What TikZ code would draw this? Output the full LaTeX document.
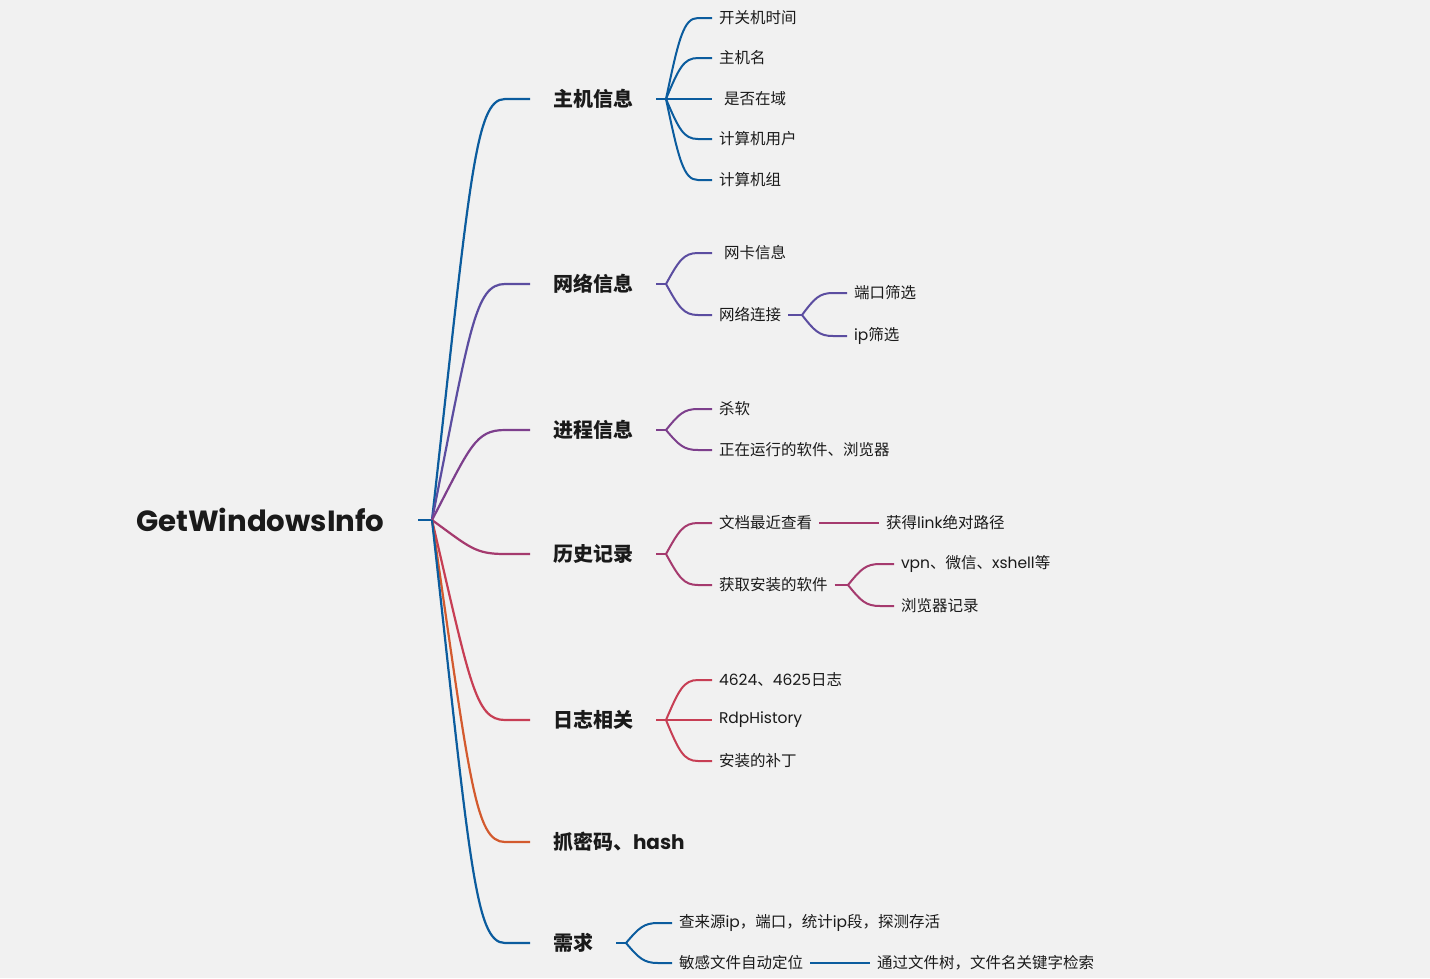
\documentclass[tikz,border=0pt]{standalone}
\usepackage{fontspec}
\setmainfont{Noto Sans CJK SC}
\newfontfamily\latfont{Poppins}
\usetikzlibrary{calc}
\definecolor{bg}{HTML}{F1F1F1}
\definecolor{txt}{HTML}{1A1A1A}
\definecolor{cA}{RGB}{11,92,158}
\definecolor{cB}{RGB}{91,77,160}
\definecolor{cC}{RGB}{125,63,140}
\definecolor{cD}{RGB}{165,58,110}
\definecolor{cE}{RGB}{199,62,84}
\definecolor{cF}{RGB}{211,90,46}
\newcommand{\lf}[1]{{\latfont #1}}
\begin{document}
\begin{tikzpicture}[x=1pt,y=-1pt, line width=2pt,
  rootnode/.style={anchor=west, inner sep=0pt, text=txt, font=\latfont\bfseries\fontsize{29.2}{35}\selectfont},
  lone/.style={anchor=west, inner xsep=22pt, inner ysep=2pt, text=txt, font=\bfseries\fontsize{20}{24}\selectfont},
  ltwo/.style={anchor=west, inner xsep=6pt, inner ysep=2pt, text=txt, font=\fontsize{15.5}{18}\selectfont},
  mainbr/.style={to path={let \p1=(\tikztostart), \p2=(\tikztotarget) in
     .. controls ({\x1+38pt},{\y1+0.81*(\y2-\y1)}) and ({\x1+43pt},\y2) .. ({\x1+73pt},\y2) -- (\tikztotarget)}},
  subbr/.style={to path={let \p1=(\tikztostart), \p2=(\tikztotarget) in
     .. controls ({\x1+0.4*(\x2-\x1-14pt)},{\y1+0.75*(\y2-\y1)}) and ({\x2-14pt-0.45*(\x2-\x1-14pt)},\y2) .. ({\x2-14pt},\y2) -- (\tikztotarget)}},
  mainln/.style={line width=2.2pt},
  subln/.style={line width=2pt}
]
\fill[bg] (0,0) rectangle (1430,978);
\useasboundingbox (0,0) rectangle (1430,978);

% root
\node[rootnode] (root) at (135,520) {GetWindowsInfo};
\coordinate (s0) at (418,520);
\coordinate (J0) at (432,520);
\draw[mainln, cA] (s0) -- (J0);

% level 1
\node[lone] (A) at (530,99) {主机信息};
\node[lone] (B) at (530,284) {网络信息};
\node[lone] (C) at (530,430) {进程信息};
\node[lone] (D) at (530,554) {历史记录};
\node[lone] (E) at (530,720) {日志相关};
\node[lone] (F) at (530,842) {抓密码、\lf{hash}};
\node[lone] (G) at (530,943) {需求};

\draw[mainln,cA] (J0) to[mainbr] (A.west);
\draw[mainln,cB] (J0) to[mainbr] (B.west);
\draw[mainln,cC] (J0) to[mainbr] (C.west);
\draw[mainln,cD] (J0) to[mainbr] (D.west);
\draw[mainln,cE] (J0) to[mainbr] (E.west);
\draw[mainln,cF] (J0) to[mainbr] (F.west);
\draw[mainln,cA] (J0) to[mainbr] (G.west);

% fan points
\coordinate (fA) at (666,99);
\coordinate (fB) at (666,284);
\coordinate (fC) at (666,430);
\coordinate (fD) at (666,554);
\coordinate (fE) at (666,720);
\coordinate (fG) at (626,943);
\draw[subln,cA] (A.east) -- (fA);
\draw[subln,cB] (B.east) -- (fB);
\draw[subln,cC] (C.east) -- (fC);
\draw[subln,cD] (D.east) -- (fD);
\draw[subln,cE] (E.east) -- (fE);
\draw[subln,cA] (G.east) -- (fG);

% A children
\node[ltwo] (A1) at (712,18) {开关机时间};
\node[ltwo] (A2) at (712,58) {主机名};
\node[ltwo] (A3) at (712,99) {\hspace{5pt}是否在域};
\node[ltwo] (A4) at (712,139) {计算机用户};
\node[ltwo] (A5) at (712,180) {计算机组};
\draw[subln,cA] (fA) to[subbr] (A1.west);
\draw[subln,cA] (fA) to[subbr] (A2.west);
\draw[subln,cA] (fA) to[subbr] (A3.west);
\draw[subln,cA] (fA) to[subbr] (A4.west);
\draw[subln,cA] (fA) to[subbr] (A5.west);

% B children
\node[ltwo] (B1) at (712,253) {\hspace{5pt}网卡信息};
\node[ltwo] (B2) at (712,315) {网络连接};
\draw[subln,cB] (fB) to[subbr] (B1.west);
\draw[subln,cB] (fB) to[subbr] (B2.west);
\coordinate (fB2) at (802,315);
\draw[subln,cB] (B2.east) -- (fB2);
\node[ltwo] (B21) at (847,293) {端口筛选};
\node[ltwo] (B22) at (847,336) {\lf{ip}筛选};
\draw[subln,cB] (fB2) to[subbr] (B21.west);
\draw[subln,cB] (fB2) to[subbr] (B22.west);

% C children
\node[ltwo] (C1) at (712,409) {杀软};
\node[ltwo] (C2) at (712,450) {正在运行的软件、浏览器};
\draw[subln,cC] (fC) to[subbr] (C1.west);
\draw[subln,cC] (fC) to[subbr] (C2.west);

% D children
\node[ltwo] (D1) at (712,523) {文档最近查看};
\node[ltwo] (D2) at (712,585) {获取安装的软件};
\draw[subln,cD] (fD) to[subbr] (D1.west);
\draw[subln,cD] (fD) to[subbr] (D2.west);
\node[ltwo] (D11) at (879,523) {获得\lf{link}绝对路径};
\draw[subln,cD] (D1.east) -- (D11.west);
\coordinate (fD2) at (848,585);
\draw[subln,cD] (D2.east) -- (fD2);
\node[ltwo] (D21) at (894,564) {\lf{vpn}、微信、\lf{xshell}等};
\node[ltwo] (D22) at (894,606) {浏览器记录};
\draw[subln,cD] (fD2) to[subbr] (D21.west);
\draw[subln,cD] (fD2) to[subbr] (D22.west);

% E children
\node[ltwo] (E1) at (712,680) {\lf{4624}、\lf{4625}日志};
\node[ltwo] (E2) at (712,720) {\lf{RdpHistory}};
\node[ltwo] (E3) at (712,761) {安装的补丁};
\draw[subln,cE] (fE) to[subbr] (E1.west);
\draw[subln,cE] (fE) to[subbr] (E2.west);
\draw[subln,cE] (fE) to[subbr] (E3.west);

% G children
\node[ltwo] (G1) at (672,923) {查来源\lf{ip}，端口，统计\lf{ip}段，探测存活};
\node[ltwo] (G2) at (672,963) {敏感文件自动定位};
\draw[subln,cA] (fG) to[subbr] (G1.west);
\draw[subln,cA] (fG) to[subbr] (G2.west);
\node[ltwo] (G21) at (870,963) {通过文件树，文件名关键字检索};
\draw[subln,cA] (G2.east) -- (G21.west);
\end{tikzpicture}
\end{document}
